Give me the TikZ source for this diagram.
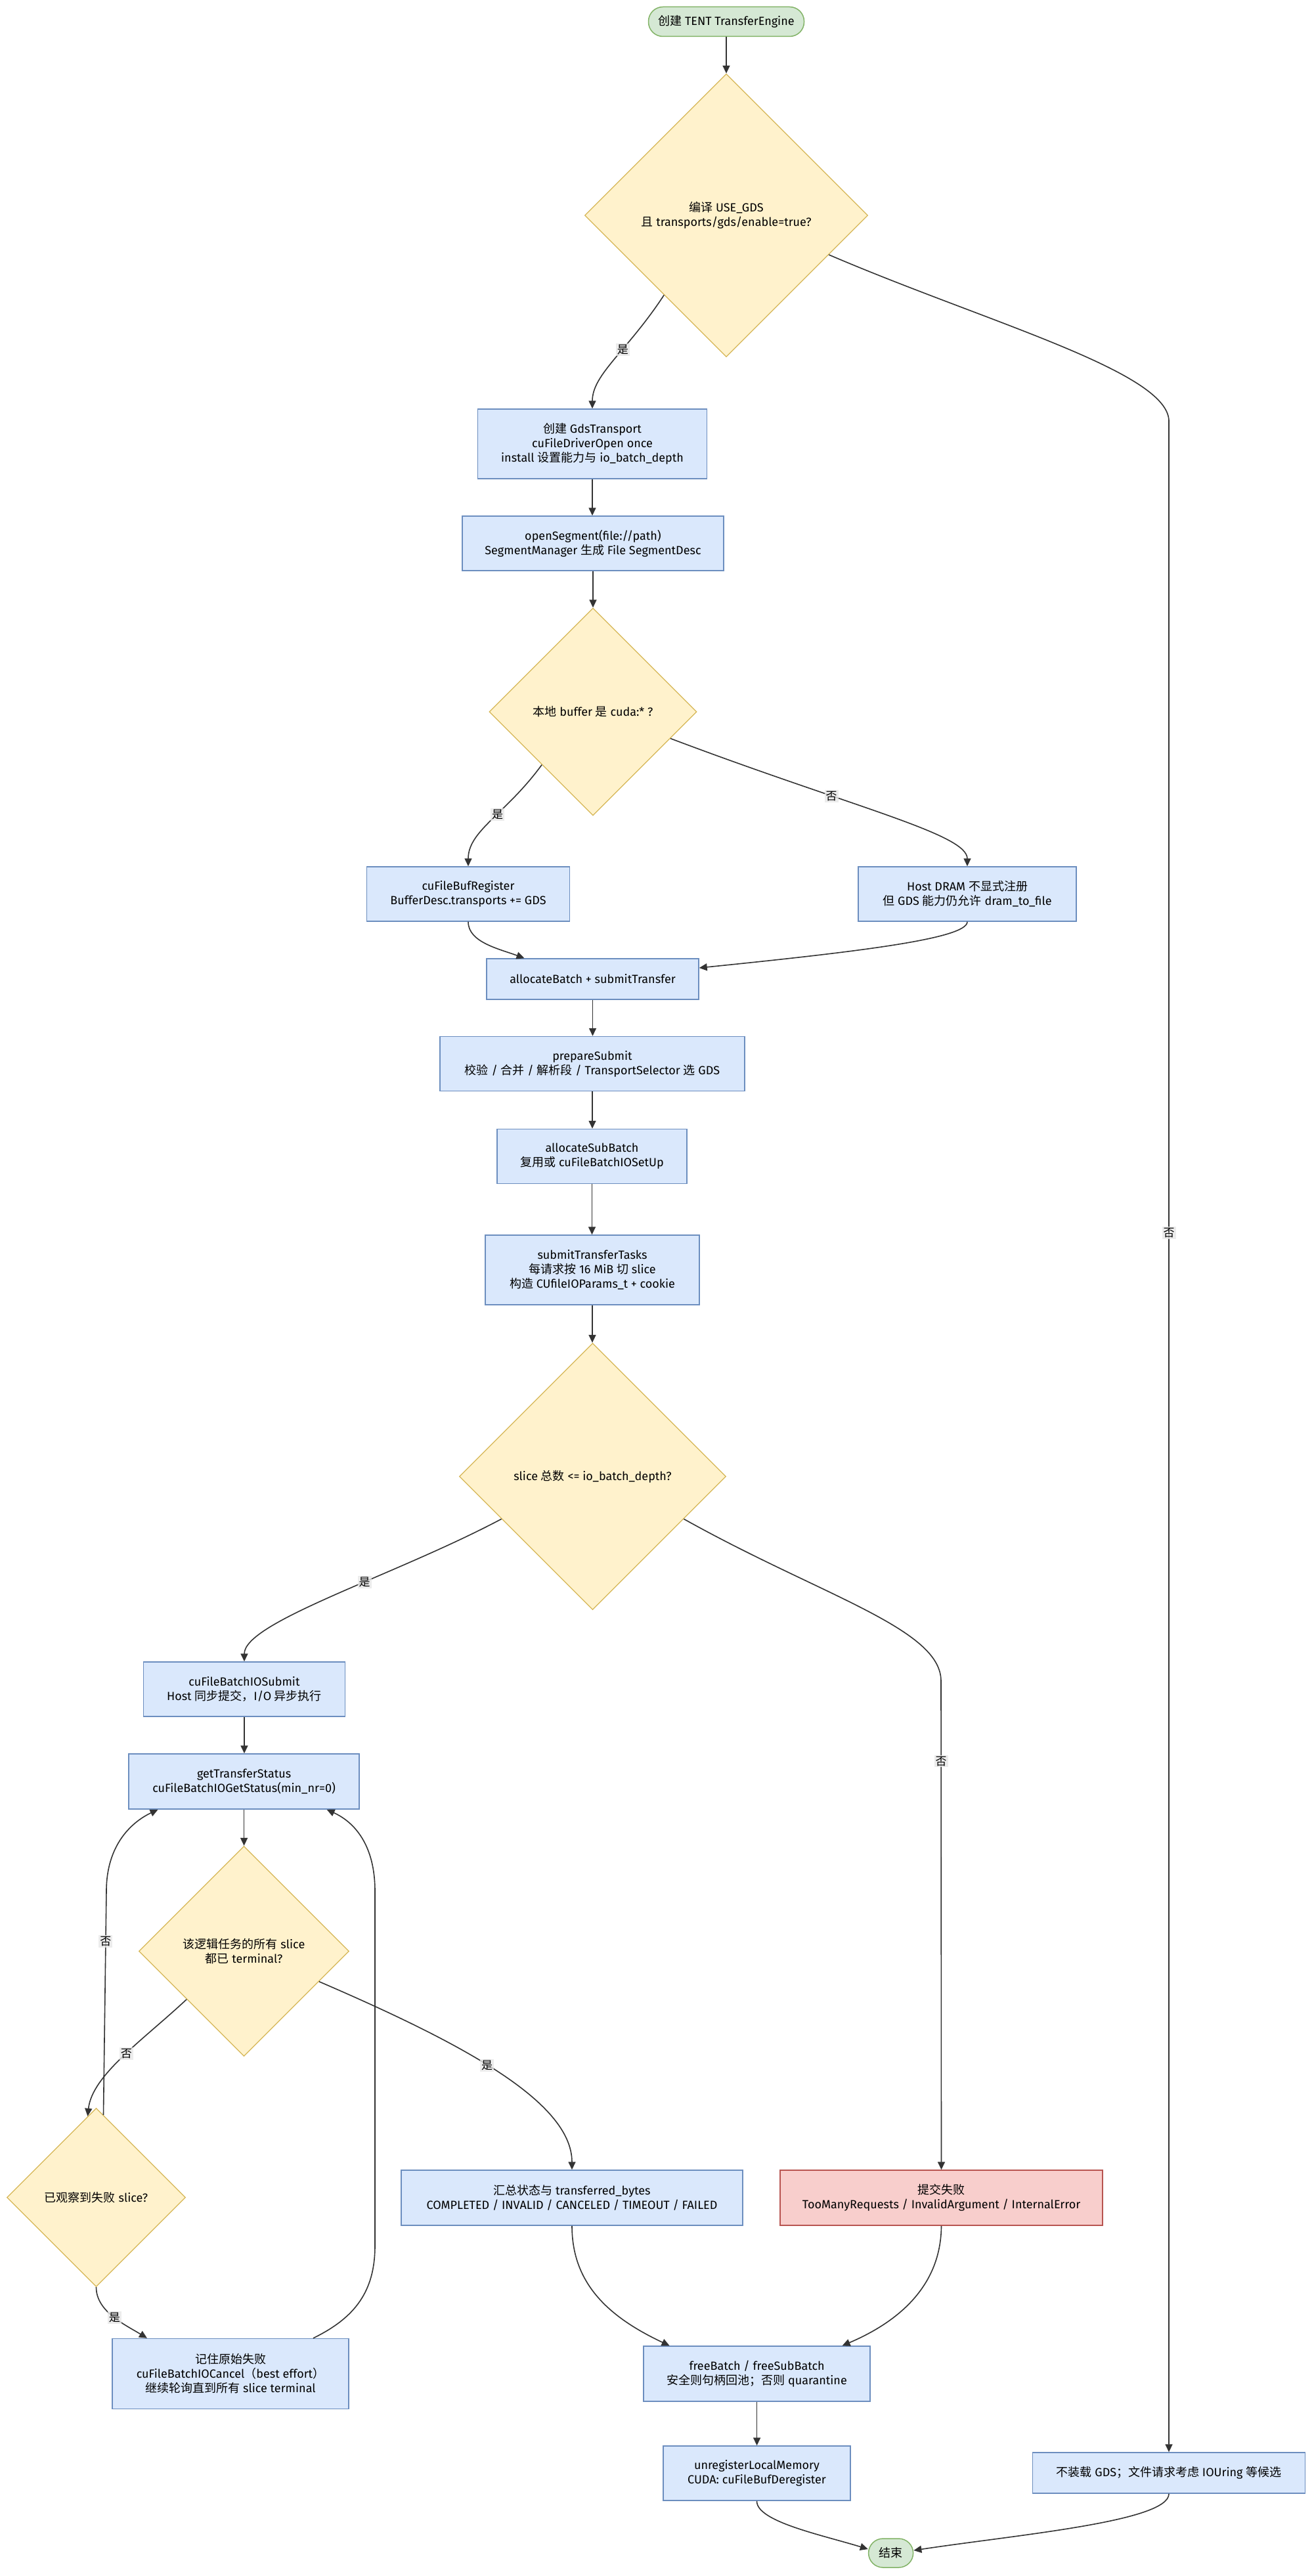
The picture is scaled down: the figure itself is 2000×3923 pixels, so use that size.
\documentclass[tikz,border=0pt]{standalone}
\usepackage{fontspec}
\setmainfont{Fira Sans}
\newfontfamily\cjk{Noto Sans CJK SC}
\newcommand{\zh}[1]{{\cjk #1}}
\usetikzlibrary{shapes.geometric,arrows.meta,calc}
\definecolor{boxfill}{HTML}{DAE8FC}
\definecolor{boxline}{HTML}{6C8EBF}
\definecolor{decfill}{HTML}{FFF2CC}
\definecolor{decline}{HTML}{D6B656}
\definecolor{termfill}{HTML}{D5E8D4}
\definecolor{termline}{HTML}{82B366}
\definecolor{errfill}{HTML}{F8CECC}
\definecolor{errline}{HTML}{B85450}
\definecolor{edgecol}{HTML}{333333}
\definecolor{lblbg}{HTML}{E8E8E8}
\tikzset{
  every node/.style={font=\fontsize{18}{22}\selectfont},
  sz/.style 2 args={minimum width=#1pt, minimum height=#2pt},
  proc/.style={draw=boxline, fill=boxfill, line width=1.5pt, align=center, inner sep=0pt},
  dec/.style={diamond, aspect=1, draw=decline, fill=decfill, line width=1.3pt, align=center, inner sep=0pt},
  term/.style={draw=termline, fill=termfill, line width=1.5pt, rounded corners=22pt, align=center, inner sep=0pt},
  err/.style={proc, draw=errline, fill=errfill},
  flow/.style={draw=edgecol, line width=1.6pt, -{Triangle[length=12pt,width=11pt]}},
  lbl/.style={fill=lblbg, fill opacity=0.8, text opacity=1, inner sep=2pt, font=\fontsize{17}{20}\selectfont},
}
\begin{document}
\begin{tikzpicture}[x=1pt,y=-1pt]
\fill[white] (0,0) rectangle (2000,3923);
\useasboundingbox (0,0) rectangle (2000,3923);

\node[term, sz={237}{45}] (start) at (1106,33) {\zh{创建} TENT TransferEngine};
\node[dec, sz={431}{431}] (d1) at (1106,328) {\zh{编译} USE\_GDS\\\zh{且} transports/gds/enable=true?};
\node[proc, sz={349}{106}] (gds) at (902,676) {\zh{创建} GdsTransport\\cuFileDriverOpen once\\install \zh{设置能力与} io\_batch\_depth};
\node[proc, sz={398}{83}] (openseg) at (903,827.5) {openSegment(file://path)\\SegmentManager \zh{生成} File SegmentDesc};
\node[dec, sz={316}{316}] (d2) at (903,1084) {\zh{本地} buffer \zh{是} cuda:* ?};
\node[proc, sz={309}{83}] (bufreg) at (713,1361.5) {cuFileBufRegister\\BufferDesc.transports += GDS};
\node[proc, sz={332}{83}] (host) at (1473,1361.5) {Host DRAM \zh{不显式注册}\\\zh{但} GDS \zh{能力仍允许} dram\_to\_file};
\node[proc, sz={323}{62}] (allocb) at (902.5,1491) {allocateBatch + submitTransfer};
\node[proc, sz={464}{83}] (prep) at (902,1620) {prepareSubmit\\\zh{校验} / \zh{合并} / \zh{解析段} / TransportSelector \zh{选} GDS};
\node[proc, sz={289}{83}] (allocsub) at (901.5,1761) {allocateSubBatch\\\zh{复用或} cuFileBatchIOSetUp};
\node[proc, sz={326}{106}] (submit) at (902,1934) {submitTransferTasks\\\zh{每请求按} 16 MiB \zh{切} slice\\\zh{构造} CUfileIOParams\_t + cookie};
\node[dec, sz={406}{406}] (d3) at (902.5,2248.5) {slice \zh{总数} <= io\_batch\_depth?};
\node[proc, sz={307}{83}] (bsub) at (372,2572.5) {cuFileBatchIOSubmit\\Host \zh{同步提交，}I/O \zh{异步执行}};
\node[proc, sz={351}{84}] (gts) at (371.6,2713) {getTransferStatus\\cuFileBatchIOGetStatus(min\_nr=0)};
\node[dec, sz={320}{320}] (d4) at (371.5,2971.5) {\zh{该逻辑任务的所有} slice\\\zh{都已} terminal?};
\node[dec, sz={272}{272}] (d5) at (146.5,3346.5) {\zh{已观察到失败} slice?};
\node[proc, sz={360}{107}] (remember) at (351,3615) {\zh{记住原始失败}\\cuFileBatchIOCancel\zh{（}best effort\zh{）}\\\zh{继续轮询直到所有} slice terminal};
\node[proc, sz={520}{84}] (summary) at (871,3347) {\zh{汇总状态与} transferred\_bytes\\COMPLETED / INVALID / CANCELED / TIMEOUT / FAILED};
\node[err, sz={491}{84}] (fail) at (1433.5,3347) {\zh{提交失败}\\TooManyRequests / InvalidArgument / InternalError};
\node[proc, sz={345}{84}] (free) at (1152.6,3615) {freeBatch / freeSubBatch\\\zh{安全则句柄回池；否则} quarantine};
\node[proc, sz={285}{83}] (unreg) at (1152.5,3766.5) {unregisterLocalMemory\\CUDA: cuFileBufDeregister};
\node[proc, sz={415}{62}] (nogds) at (1780,3766) {\zh{不装载} GDS\zh{；文件请求考虑} IOUring \zh{等候选}};
\node[term, sz={68}{44}] (finish) at (1356.6,3888) {\zh{结束}};

\draw[flow] (start.south) -- (start.south |- d1.north);
\draw[flow] (d1.-128) .. controls (955,535) and (902,570) .. (gds.north) node[lbl,pos=0.4]{\zh{是}};
\draw[flow] (d1.-21) .. controls (1500,490) and (1776,565) .. (1780,640) -- (nogds.north) node[lbl,pos=0.4]{\zh{否}};
\draw[flow] (gds.south) -- (gds.south |- openseg.north);
\draw[flow] (openseg.south) -- (openseg.south |- d2.north);
\draw[flow] (d2.-134) .. controls (770,1240) and (713,1265) .. (bufreg.north) node[lbl,pos=0.43]{\zh{是}};
\draw[flow] (d2.-19) .. controls (1300,1230) and (1473,1270) .. (host.north) node[lbl,pos=0.34]{\zh{否}};
\draw[flow] (bufreg.south) .. controls (713,1435) and (760,1445) .. ([xshift=-104pt]allocb.north);
\draw[flow] (host.south) .. controls (1473,1430) and (1300,1450) .. ([yshift=17pt]allocb.east);
\draw[flow] (allocb.south) -- (allocb.south |- prep.north);
\draw[flow] (prep.south) -- (prep.south |- allocsub.north);
\draw[flow] (allocsub.south) -- (allocsub.south |- submit.north);
\draw[flow] (submit.south) -- (submit.south |- d3.north);
\draw[flow] (d3.-155) .. controls (600,2400) and (372,2470) .. (bsub.north) node[lbl,pos=0.4]{\zh{是}};
\draw[flow] (d3.-25) .. controls (1250,2430) and (1433,2480) .. (1433,2560) -- (fail.north) node[lbl,pos=0.164]{\zh{否}};
\draw[flow] (bsub.south) -- (bsub.south |- gts.north);
\draw[flow] (gts.south) -- (gts.south |- d4.north);
\draw[flow] (d4.-22) .. controls (700,3110) and (871,3200) .. (summary.north) node[lbl,pos=0.46]{\zh{是}};
\draw[flow] (d4.-140) .. controls (220,3105) and (140,3160) .. (d5.96) node[lbl,pos=0.47]{\zh{否}};
\draw[flow] (d5.85) -- (162,2880) node[lbl,pos=0.775]{\zh{否}} .. controls (162,2810) and (200,2775) .. ([xshift=-131pt]gts.south);
\draw[flow] (d5.south) .. controls (146.5,3520) and (190,3540) .. ([xshift=-127pt]remember.north) node[lbl,pos=0.52]{\zh{是}};
\draw[flow] ([xshift=126pt]remember.north) .. controls (540,3530) and (571,3490) .. (571,3420) -- (571,2880) .. controls (571,2810) and (540,2775) .. ([xshift=126pt]gts.south);
\draw[flow] (summary.south) .. controls (871,3480) and (930,3530) .. ([xshift=-133pt]free.north);
\draw[flow] (fail.south) .. controls (1433,3480) and (1370,3535) .. ([xshift=130pt]free.north);
\draw[flow] (free.south) -- (free.south |- unreg.north);
\draw[flow] (unreg.south) .. controls (1152,3840) and (1250,3860) .. ([yshift=6pt]finish.west);
\draw[flow] (nogds.south) .. controls (1780,3840) and (1550,3860) .. ([yshift=4pt]finish.east);
\end{tikzpicture}
\end{document}
